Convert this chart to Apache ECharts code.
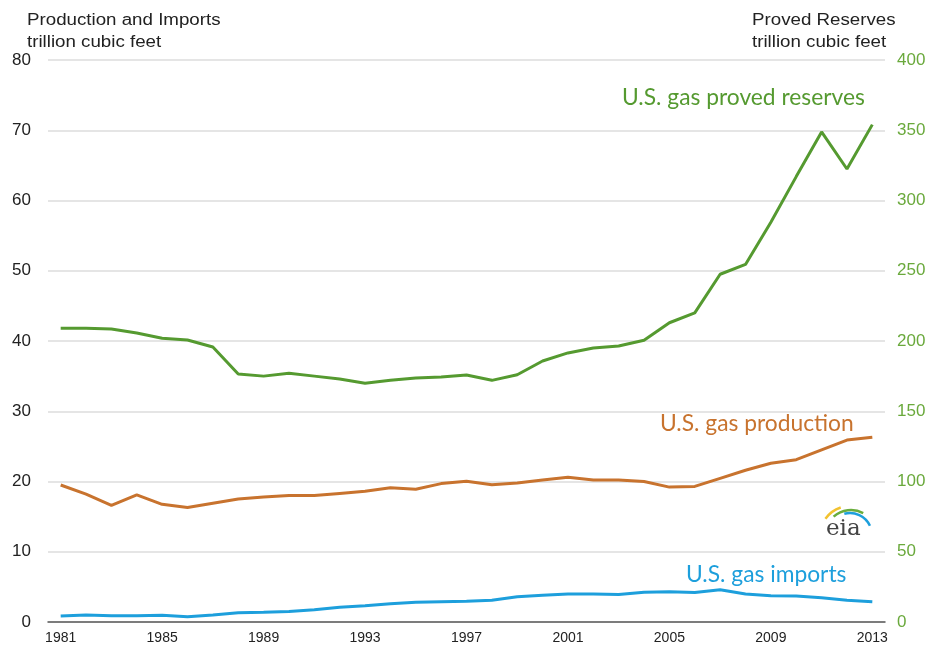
<!DOCTYPE html>
<html>
<head>
<meta charset="utf-8">
<script src="https://cdn.jsdelivr.net/npm/echarts@6/dist/echarts.min.js"></script>
<style>
  html, body { margin: 0; padding: 0; background: #fff; }
  #main { width: 934px; height: 650px; }
</style>
</head>
<body>
<div id="main"></div>
<script>
  // years on the x axis
  const years = []
  for (let y = 1981; y <= 2013; y++) years.push(String(y))

  // trillion cubic feet
  const production = [19.5, 18.2, 16.6, 18.1, 16.75, 16.3, 16.9, 17.5, 17.8, 18.0, 18.0,
    18.3, 18.6, 19.1, 18.9, 19.7, 20.05, 19.55, 19.8, 20.2, 20.6, 20.2, 20.2, 20.0,
    19.2, 19.3, 20.45, 21.6, 22.6, 23.1, 24.5, 25.9, 26.3]
  const imports = [0.85, 1.0, 0.9, 0.9, 0.95, 0.75, 0.99, 1.3, 1.38, 1.5, 1.75,
    2.1, 2.3, 2.6, 2.8, 2.9, 2.95, 3.1, 3.6, 3.8, 4.0, 4.0, 3.9, 4.25,
    4.3, 4.2, 4.6, 4.0, 3.75, 3.7, 3.45, 3.1, 2.9]
  const reserves = [209, 209, 208.5, 205.7, 202, 200.7, 195.7, 176.5, 175, 177, 175,
    173, 170, 172, 173.7, 174.4, 175.8, 172, 176, 185.8, 191.5, 195, 196.4, 200.5,
    213, 220, 247.5, 254.5, 284.5, 317, 348.8, 322.4, 354]

  const green = '#559a30'
  const orange = '#c8732e'
  const blue = '#1d9fdc'
  const deg = Math.PI / 180

  const chart = echarts.init(document.getElementById('main'))

  chart.setOption({
    animation: false,
    grid: { left: 48, right: 49, top: 60, bottom: 28 },
    xAxis: {
      type: 'category',
      data: years,
      boundaryGap: true,
      axisLine: { lineStyle: { color: '#595959', width: 1.5 } },
      axisTick: { interval: 0, length: 5, lineStyle: { color: '#595959' } },
      axisLabel: { interval: 3, color: '#222', fontSize: 14, fontFamily: 'Liberation Sans', margin: 9 }
    },
    yAxis: [{
      type: 'value',
      min: 0,
      max: 80,
      interval: 10,
      axisLine: { show: false },
      axisTick: { show: false },
      axisLabel: { color: '#222', fontSize: 17, fontFamily: 'Liberation Sans', margin: 17 },
      splitLine: { lineStyle: { color: '#dcdcdc', width: 1.5 } }
    }, {
      type: 'value',
      min: 0,
      max: 400,
      interval: 50,
      axisLine: { show: false },
      axisTick: { show: false },
      axisLabel: { color: '#6aa93c', fontSize: 17, fontFamily: 'Liberation Sans', margin: 12 },
      splitLine: { show: false }
    }],
    series: [{
      name: 'U.S. gas proved reserves',
      type: 'line',
      yAxisIndex: 1,
      data: reserves,
      symbol: 'none',
      lineStyle: { color: green, width: 3 }
    }, {
      name: 'U.S. gas production',
      type: 'line',
      data: production,
      symbol: 'none',
      lineStyle: { color: orange, width: 3 }
    }, {
      name: 'U.S. gas imports',
      type: 'line',
      data: imports,
      symbol: 'none',
      lineStyle: { color: blue, width: 3 }
    }],
    graphic: [
      { type: 'text', x: 27, y: 10, scaleX: 1.17, style: { text: 'Production and Imports\ntrillion cubic feet', fill: '#222', font: '16px "Liberation Sans"', lineHeight: 22 } },
      { type: 'text', x: 752, y: 10, scaleX: 1.17, style: { text: 'Proved Reserves\ntrillion cubic feet', fill: '#222', font: '16px "Liberation Sans"', lineHeight: 22 } },
      { type: 'text', left: 622, top: 86, style: { text: 'U.S. gas proved reserves', fill: green, font: '22.8px Lato' } },
      { type: 'text', left: 660, top: 412, style: { text: 'U.S. gas production', fill: orange, font: '22.8px Lato' } },
      { type: 'text', left: 686, top: 563, style: { text: 'U.S. gas imports', fill: blue, font: '22.8px Lato' } },
      // eia logo
      { type: 'arc', shape: { cx: 850, cy: 536, r: 30, startAngle: -145 * deg, endAngle: -108 * deg }, style: { stroke: '#f2c230', lineWidth: 2.5, fill: null } },
      { type: 'arc', shape: { cx: 851, cy: 536, r: 26, startAngle: -132 * deg, endAngle: -62 * deg }, style: { stroke: '#69ad3b', lineWidth: 2.5, fill: null } },
      { type: 'arc', shape: { cx: 850, cy: 535, r: 22, startAngle: -105 * deg, endAngle: -25 * deg }, style: { stroke: '#1d9fdc', lineWidth: 2.5, fill: null } },
      { type: 'text', left: 826, top: 518, style: { text: 'eia', fill: '#444', font: '23px "DejaVu Serif"' } }
    ]
  })
</script>
</body>
</html>
